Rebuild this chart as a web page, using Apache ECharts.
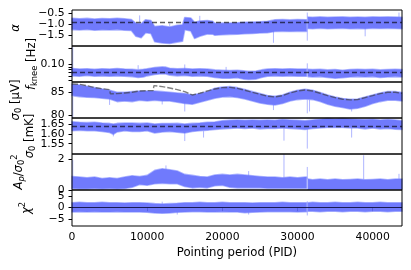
<!DOCTYPE html>
<html><head><meta charset="utf-8">
<script src="https://cdn.jsdelivr.net/npm/echarts@6/dist/echarts.min.js"></script>
<style>html,body{margin:0;padding:0;background:#fff}#c{width:411px;height:270px}</style>
</head><body><div id="c"></div>
<script>
// ---------- x axis ----------
const pidTicks = [0, 10000, 20000, 30000, 40000];
const pidMax = 43900;

// ---------- panel 1: alpha ----------
const alphaPid = [0,1000,2000,3000,4000,5000,6000,7000,7900,8500,9200,9800,10500,11000,12000,13000,14000,14700,15000,15800,16300,17000,18000,18700,19000,20000,21000,22000,23000,24000,25000,26000,26800,27000,28000,29000,30000,31200,31300,31400,32000,33000,34000,35000,36000,37000,38000,39000,40000,41000,42000,43000,43900];
const alphaHi = [-0.71,-0.74,-0.72,-0.75,-0.73,-0.74,-0.71,-0.74,-0.77,-0.95,-0.97,-0.78,-0.82,-1.10,-1.06,-1.12,-1.04,-1.02,-0.68,-0.70,-0.90,-0.84,-0.82,-0.85,-0.95,-0.94,-0.93,-0.92,-0.90,-0.89,-0.88,-0.85,-0.80,-0.78,-0.77,-0.79,-0.77,-0.78,null,-0.66,-0.67,-0.65,-0.67,-0.66,-0.65,-0.67,-0.66,-0.67,-0.65,-0.66,-0.65,-0.66,-0.67];
const alphaLo = [-1.24,-1.26,-1.23,-1.27,-1.25,-1.26,-1.24,-1.27,-1.28,-1.55,-1.62,-1.38,-1.42,-1.80,-1.86,-1.88,-1.82,-1.78,-1.25,-1.30,-1.65,-1.55,-1.44,-1.45,-1.50,-1.48,-1.46,-1.45,-1.43,-1.42,-1.40,-1.38,-1.34,-1.33,-1.32,-1.33,-1.31,-1.32,null,-1.19,-1.20,-1.18,-1.20,-1.19,-1.18,-1.20,-1.19,-1.20,-1.18,-1.19,-1.18,-1.19,-1.20];
const alphaSpikes = [[9000,-0.9,-0.58],[13000,-1.1,-0.95],[17000,-0.85,-0.6],[26800,-1.3,-1.85],[31300,-0.45,-1.75],[39000,-1.15,-1.55],[43500,-0.7,-0.45]];
const alphaRef = -0.88;
const alphaTicks = [-1.5, -1.0, -0.5];

// ---------- panel 2: f_knee (log axis) ----------
const fkPid = [0,1000,2000,3000,4000,5000,6000,7000,8000,8800,9500,10000,11000,12000,12500,13000,14000,15000,16000,17000,18000,19000,20000,21000,22000,22800,23500,24500,25200,26000,27000,28000,29000,30000,31200,31300,31400,32000,33000,34000,35000,36000,37000,38000,39000,40000,41000,42000,43000,43900];
const fkHi = [0.084,0.082,0.083,0.081,0.083,0.082,0.084,0.082,0.081,0.079,0.081,0.083,0.088,0.090,0.089,0.085,0.083,0.084,0.082,0.083,0.082,0.079,0.078,0.077,0.078,0.076,0.074,0.075,0.079,0.082,0.083,0.082,0.083,0.082,0.082,null,0.081,0.080,0.081,0.079,0.080,0.078,0.080,0.081,0.080,0.081,0.079,0.080,0.081,0.080];
const fkLo = [0.061,0.060,0.062,0.060,0.061,0.060,0.061,0.060,0.059,0.057,0.058,0.061,0.065,0.067,0.066,0.063,0.061,0.062,0.060,0.061,0.060,0.057,0.055,0.055,0.056,0.053,0.052,0.053,0.057,0.060,0.061,0.060,0.061,0.060,0.060,null,0.059,0.058,0.059,0.057,0.055,0.056,0.058,0.059,0.058,0.059,0.057,0.058,0.059,0.058];
const fkSpikes = [[100,0.07,0.21],[8800,0.08,0.097],[15000,0.08,0.10],[20500,0.075,0.09],[31300,0.07,0.105]];
const fkRef = 0.0716;
const fkLabelTicks = [0.1];
const fkMinorTicks = [0.05,0.06,0.07,0.08,0.09,0.1,0.2];
const fkRange = [0.0467, 0.2234];

// ---------- panel 3: sigma0 [uV] ----------
const s0Pid = [0,1000,2000,3000,4000,5000,6000,7000,8000,9000,10000,11000,12000,13000,14000,15000,16000,17000,18000,19000,20000,21000,22000,23000,24000,25000,26000,27000,28000,29000,30000,31000,32000,33000,34000,35000,36000,37000,38000,39000,40000,41000,42000,43000,43900];
const s0Hi = [86.70,86.56,86.28,85.99,85.71,85.43,85.00,85.00,85.14,85.28,85.28,85.28,85.14,85.00,84.86,84.72,84.43,84.72,85.14,85.85,86.13,86.21,85.99,85.57,85.14,84.72,84.29,84.15,84.43,85.00,85.43,85.64,85.43,84.93,84.43,84.01,83.65,83.51,83.58,84.01,84.43,84.86,85.14,85.14,84.93];
const s0Lo = [84.29,84.08,83.94,83.87,83.72,83.58,83.01,83.16,83.01,83.30,83.16,83.30,83.16,83.16,82.87,82.59,82.45,82.87,83.30,83.72,84.01,84.08,83.87,83.58,83.16,82.73,82.45,82.30,82.59,83.16,83.44,83.58,83.44,83.01,82.45,82.02,81.74,81.45,81.60,82.02,82.59,83.01,83.30,83.30,83.16];
const s0Spikes = [[100,84.0,79.6],[5000,83.6,82.3],[12000,83.2,82.4],[15000,82.8,80.9],[26800,82.4,81.2],[31300,83.4,80.5],[31600,83.4,80.9],[37200,81.5,80.9]];
const s0ModelPid = [0,1000,2000,3000,4000,5000,5100,6000,7000,8000,9000,10000,10800,10900,12000,13000,14000,15000,16000,17000,18000,19000,20000,21000,22000,23000,24000,25000,26000,27000,28000,29000,30000,31000,32000,33000,34000,35000,36000,37000,38000,39000,40000,41000,42000,43000,43900];
const s0Model = [86.77,86.70,86.42,85.99,85.78,85.57,84.65,84.72,84.86,85.00,85.28,85.35,85.35,86.42,86.21,85.92,85.57,85.14,84.43,84.79,85.28,85.71,85.99,86.06,85.85,85.43,85.00,84.57,84.15,84.01,84.29,84.86,85.28,85.50,85.28,84.79,84.29,83.87,83.51,83.37,83.44,83.87,84.29,84.72,85.00,85.00,84.79];
const s0Ticks = [80, 85];

// ---------- panel 4: sigma0 [mK] ----------
const s1Pid = [0,1000,2000,3000,4000,5000,5500,6000,7000,8000,9000,10000,11000,12000,13000,14000,15000,16000,17000,18000,19000,20000,21000,22000,23000,24000,25000,26000,27000,28000,29000,30000,31000,32000,33000,34000,35000,36000,37000,38000,39000,40000,41000,42000,43000,43900];
const s1Hi = [1.664,1.661,1.659,1.661,1.657,1.655,1.652,1.655,1.657,1.657,1.655,1.657,1.652,1.654,1.654,1.655,1.652,1.655,1.657,1.661,1.662,1.669,1.671,1.673,1.671,1.673,1.671,1.673,1.671,1.675,1.673,1.671,1.669,1.673,1.676,1.680,1.678,1.680,1.678,1.676,1.675,1.676,1.673,1.675,1.673,1.669];
const s1Lo = [1.617,1.620,1.617,1.617,1.613,1.608,1.599,1.611,1.617,1.613,1.613,1.617,1.606,1.611,1.613,1.610,1.606,1.613,1.617,1.620,1.624,1.627,1.629,1.631,1.629,1.631,1.627,1.629,1.629,1.631,1.629,1.627,1.624,1.629,1.631,1.634,1.634,1.634,1.632,1.631,1.627,1.631,1.627,1.629,1.625,1.624];
const s1Spikes = [[5500,1.60,1.588],[15000,1.61,1.564],[17500,1.615,1.582],[28200,1.63,1.566],[31300,1.625,1.525],[37200,1.632,1.582]];
const s1Ref = 1.636;
const s1Ticks = [1.55, 1.60, 1.65];

// ---------- panel 5: A_p / sigma0^2 ----------
const apPid = [0,1000,2000,3000,4000,5000,6000,7000,8000,9000,10000,11000,12000,13000,14000,15000,16000,17000,18000,19000,20000,21000,22000,23000,24000,25000,26000,27000,28000,29000,30000,31000,31200,31300,31400,32000,33000,34000,35000,36000,37000,38000,39000,40000,41000,42000,43000,43900];
const apHi = [0.880,0.836,0.792,0.836,0.748,0.792,0.748,0.836,0.924,0.880,0.946,1.276,1.386,1.320,1.232,1.012,0.946,0.880,0.836,0.968,1.012,0.968,1.012,0.968,0.924,0.880,0.836,0.836,0.792,0.836,0.792,0.836,0.836,null,0.704,0.660,0.704,0.660,0.704,0.660,0.682,0.704,0.660,0.682,0.704,0.660,0.704,0.704];
const apLo = [0.088,0.066,0.066,0.088,0.066,0.088,0.066,0.088,0.176,0.352,0.308,0.396,0.440,0.396,0.396,0.220,0.132,0.176,0.132,0.264,0.308,0.176,0.132,0.132,0.132,0.132,0.110,0.110,0.110,0.110,0.110,0.110,0.110,null,0.044,0.044,0.044,0.044,0.044,0.044,0.044,0.044,0.044,0.044,0.044,0.044,0.044,0.044];
const apSpikes = [[100,0.8,1.95],[12500,1.3,1.6],[23500,0.9,1.23],[28200,0.8,2.34],[31300,0.7,1.5],[38800,0.7,2.27],[43500,0.7,1.05]];
const apTicks = [0, 2];

// ---------- panel 6: chi^2 ----------
const chiPid = [0,1000,2000,3000,4000,5000,6000,7000,8000,9000,10000,11000,12000,13000,14000,15000,16000,17000,18000,19000,20000,21000,22000,23000,24000,25000,26000,27000,28000,29000,30000,31000,31200,31300,31400,32000,33000,34000,35000,36000,37000,38000,39000,40000,41000,42000,43000,43900];
const chiHi = [2.17,2.32,2.17,2.17,2.32,2.17,2.17,2.03,2.17,2.17,2.03,1.74,1.59,1.74,1.88,2.17,2.17,2.32,2.17,2.17,2.32,2.17,2.17,2.17,2.03,2.17,2.17,2.17,2.32,2.17,2.17,2.17,2.17,null,2.17,2.32,2.17,2.17,2.32,2.17,2.17,2.32,2.17,2.17,2.32,2.17,2.17,2.17];
const chiLo = [-1.88,-1.74,-1.88,-1.74,-1.88,-1.88,-1.74,-1.88,-1.88,-1.88,-2.03,-2.32,-2.46,-2.32,-2.03,-1.88,-1.74,-1.74,-1.88,-1.88,-1.74,-1.88,-1.88,-2.17,-2.03,-1.88,-1.74,-1.74,-1.74,-1.74,-1.88,-1.74,-1.74,null,-1.59,-1.59,-1.74,-1.59,-1.59,-1.74,-1.59,-1.59,-1.74,-1.59,-1.59,-1.74,-1.59,-1.59];
const chiSpikes = [[12000,1.5,2.6],[14000,-1.9,-3.0],[23500,-2.0,-3.0],[31300,2.8,-3.4]];
const chiZero = 0;
const chiTicks = [-5, 0, 5];

// ---------- styling ----------
const FONT = 'DejaVu Sans';
const BLUE = 'rgba(96,108,252,0.9)';
const EDGE = 'rgba(112,124,255,0.55)';
const SPIKE = 'rgba(110,122,255,0.55)';
const REFLINE = 'rgba(0,0,0,0.62)';
const fmtMinus = (d) => (v) => (v < 0 ? '\u2212' : '') + Math.abs(v).toFixed(d);
const ident = (v) => v;

const panels = [
  {pid: alphaPid, hi: alphaHi, lo: alphaLo, spikes: alphaSpikes, ref: alphaRef, range: [-2.0, -0.33], labels: alphaTicks, ticks: alphaTicks, fmt: fmtMinus(1), tf: ident,
   name: '{i|α}', gap: 49},
  {pid: fkPid, hi: fkHi, lo: fkLo, spikes: fkSpikes, ref: fkRef, range: fkRange, labels: fkLabelTicks, ticks: fkMinorTicks, fmt: (v) => Math.pow(10, v).toFixed(2), tf: Math.log10,
   name: '{i|f}{s0|knee}{r| [Hz]}', gap: 33},
  {pid: s0Pid, hi: s0Hi, lo: s0Lo, spikes: s0Spikes, ref: null, range: [79.5, 87.2], labels: s0Ticks, ticks: s0Ticks, fmt: fmtMinus(0), tf: ident,
   name: '{i|σ}{s0|0}{r| [μV]}', gap: 49},
  {pid: s1Pid, hi: s1Hi, lo: s1Lo, spikes: s1Spikes, ref: s1Ref, range: [1.497, 1.683], labels: s1Ticks, ticks: s1Ticks, fmt: fmtMinus(2), tf: ident,
   name: '{i|σ}{s0|0}{r| [mK]}', gap: 35},
  {pid: apPid, hi: apHi, lo: apLo, spikes: apSpikes, ref: null, range: [-0.01, 2.35], labels: apTicks, ticks: apTicks, fmt: fmtMinus(0), tf: ident,
   name: '{i|A}{s|p}{r|/}{i|σ}{s0|0}{u|2}', gap: 46},
  {pid: chiPid, hi: chiHi, lo: chiLo, spikes: chiSpikes, ref: null, zero: chiZero, range: [-8.0, 7.7], labels: chiTicks, ticks: chiTicks, fmt: fmtMinus(0), tf: ident,
   name: '{i|χ}{u|2}', gap: 38}
];

const nameRich = {
  i: {fontFamily: FONT, fontSize: 11.7, fontStyle: 'italic', lineHeight: 15, color: '#000'},
  r: {fontFamily: FONT, fontSize: 11.7, lineHeight: 15, color: '#000'},
  s: {fontFamily: FONT, fontSize: 8.3, fontStyle: 'italic', verticalAlign: 'bottom', lineHeight: 9, color: '#000'},
  s0: {fontFamily: FONT, fontSize: 8.3, verticalAlign: 'bottom', lineHeight: 9, color: '#000'},
  u: {fontFamily: FONT, fontSize: 8.3, verticalAlign: 'top', lineHeight: 9, color: '#000'}
};

const TOP = 10, H = 36, LEFT = 72, RIGHT = 9;
const grid = [], xAxis = [], yAxis = [], series = [];
const labelStyle = {margin: 7.5, fontFamily: FONT, fontSize: 10.8, color: '#000'};

panels.forEach((p, k) => {
  const last = k === panels.length - 1;
  const tf = p.tf;
  grid.push({left: LEFT, right: RIGHT, top: TOP + k * H, height: H, show: true, z: 10,
             borderColor: '#000', borderWidth: 1, backgroundColor: 'transparent'});
  xAxis.push({
    type: 'value', gridIndex: k, min: 0, max: pidMax,
    axisLine: {show: false}, splitLine: {show: false},
    axisTick: {show: last, length: 3.5, customValues: pidTicks, lineStyle: {color: '#000', width: 1}},
    axisLabel: {show: last, customValues: pidTicks, formatter: (v) => String(Math.round(v)),
                margin: 6, fontFamily: FONT, fontSize: 10.8, color: '#000'},
    name: last ? 'Pointing period (PID)' : '', nameLocation: 'middle', nameGap: 21, nameMoveOverlap: false,
    nameTextStyle: {fontFamily: FONT, fontSize: 11.7, color: '#000'}
  });
  const lab = p.labels.map(tf);
  const evenLab = lab.filter((v, i) => i % 2 === 0);
  const oddLab = lab.filter((v, i) => i % 2 === 1);
  yAxis.push({
    type: 'value', gridIndex: k, min: tf(p.range[0]), max: tf(p.range[1]),
    axisLine: {show: false}, splitLine: {show: false},
    axisTick: {show: true, length: 3.5, customValues: p.ticks.map(tf), lineStyle: {color: '#000', width: 1}},
    axisLabel: Object.assign({customValues: evenLab, formatter: p.fmt}, labelStyle),
    name: p.name, nameLocation: 'middle', nameRotate: 90, nameGap: p.gap, nameMoveOverlap: false,
    nameTextStyle: {rich: nameRich, color: '#000'}
  });
  yAxis.push({
    type: 'value', gridIndex: k, min: tf(p.range[0]), max: tf(p.range[1]), position: 'left',
    axisLine: {show: false}, splitLine: {show: false}, axisTick: {show: false},
    axisLabel: Object.assign({show: oddLab.length > 0, customValues: oddLab.length ? oddLab : [tf(p.range[0])], formatter: p.fmt}, labelStyle)
  });
  const yi = 2 * k;

  const hiT = p.hi.map(v => v == null ? null : tf(v));
  const loT = p.lo.map(v => v == null ? null : tf(v));
  const pids = p.pid;

  series.push({
    type: 'custom', xAxisIndex: k, yAxisIndex: yi, z: 1, silent: true,
    data: p.spikes.map(s => [s[0], tf(s[1]), tf(s[2])]),
    encode: {x: 0, y: [1, 2]},
    renderItem: (params, api) => {
      const a = api.coord([api.value(0), api.value(1)]);
      const b = api.coord([api.value(0), api.value(2)]);
      return {type: 'line', shape: {x1: a[0], y1: a[1], x2: b[0], y2: b[1]}, style: {stroke: SPIKE, lineWidth: 1}};
    }
  });

  const band = {
    type: 'custom', xAxisIndex: k, yAxisIndex: yi, z: 2, silent: true,
    data: pids.map((x, i) => [x, hiT[i] == null ? '-' : hiT[i], loT[i] == null ? '-' : loT[i]]),
    encode: {x: 0, y: [1, 2]},
    renderItem: (params, api) => {
      if (params.dataIndex !== 0) return null;
      const children = [];
      let seg = [];
      const flush = () => {
        if (seg.length > 1) {
          const up = seg.map(i => api.coord([pids[i], hiT[i]]));
          const dn = seg.slice().reverse().map(i => api.coord([pids[i], loT[i]]));
          children.push({type: 'polygon', shape: {points: up.concat(dn)},
                         style: {fill: BLUE, stroke: EDGE, lineWidth: 1.6, lineJoin: 'round'}});
        }
        seg = [];
      };
      for (let i = 0; i < pids.length; i++) {
        if (hiT[i] == null || loT[i] == null) flush(); else seg.push(i);
      }
      flush();
      return {type: 'group', children};
    }
  };
  if (p.ref != null) {
    band.markLine = {silent: true, symbol: ['none', 'none'], label: {show: false},
      lineStyle: {type: [5, 3], color: REFLINE, width: 1.3}, data: [{yAxis: tf(p.ref)}]};
  }
  if (p.zero != null) {
    band.markLine = {silent: true, symbol: ['none', 'none'], label: {show: false},
      lineStyle: {type: 'solid', color: 'rgba(10,10,50,0.85)', width: 1}, data: [{yAxis: p.zero}]};
  }
  series.push(band);
});

series.push({
  type: 'line', xAxisIndex: 2, yAxisIndex: 4, z: 4, silent: true,
  data: s0ModelPid.map((x, i) => [x, s0Model[i]]),
  showSymbol: false, symbol: 'none',
  lineStyle: {color: 'rgba(60,60,60,0.65)', width: 1.4, type: [6, 2]}
});

const chart = echarts.init(document.getElementById('c'), null, {renderer: 'canvas'});
chart.setOption({animation: false, textStyle: {fontFamily: FONT}, grid, xAxis, yAxis, series});
</script>
</body></html>
